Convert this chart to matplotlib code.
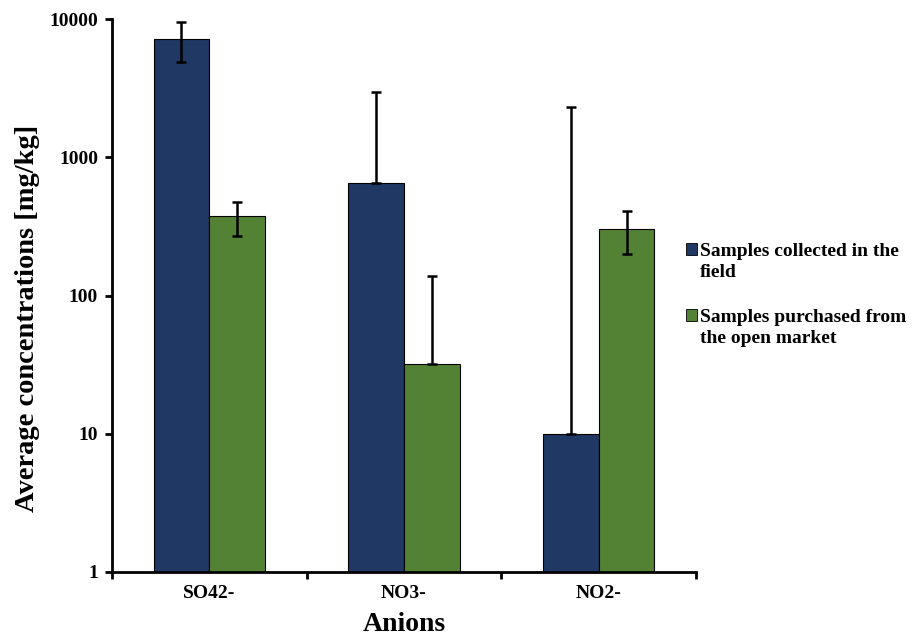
import numpy as np
import matplotlib
matplotlib.use('Agg')
import matplotlib.pyplot as plt
from matplotlib.patches import Rectangle

plt.rcParams['font.family'] = ['Liberation Serif', 'DejaVu Serif']
plt.rcParams['font.weight'] = 'bold'

anions = ['SO42-', 'NO3-', 'NO2-']
series_names = ['Samples collected in the\nfield',
                'Samples purchased from\nthe open market']
field_mean = [7200, 656, 10]
field_err = [2300, 2300, 2300]
market_mean = [373, 32, 304]
market_err = [105, 106, 104]

colors = ['#203864', '#548235']

W, H = 913, 638
fig = plt.figure(figsize=(W / 100, H / 100), dpi=100)
ax = fig.add_axes([112 / W, 1 - 572 / H, 584 / W, 553 / H])

x = np.arange(len(anions))
w = 0.286


def err_pair(mean, err):
    # lower bar is dropped where it would fall below zero on the log axis
    mean = np.asarray(mean, float)
    err = np.asarray(err, float)
    lower = np.where(err < mean, err, 0.0)
    return [lower, err]


for i, (mean, err) in enumerate([(field_mean, field_err), (market_mean, market_err)]):
    pos = x + (i - 0.5) * w
    ax.bar(pos, mean, width=w, color=colors[i], edgecolor='black', linewidth=0.8,
           zorder=2)
    ax.errorbar(pos, mean, yerr=err_pair(mean, err), fmt='none', ecolor='black',
                elinewidth=1.8, capsize=3.5, capthick=1.8, zorder=3)

ax.set_yscale('log')
ax.set_ylim(1, 10000)
ax.set_yticks([1, 10, 100, 1000, 10000])
ax.set_yticklabels(['1', '10', '100', '1000', '10000'])
ax.yaxis.set_minor_locator(matplotlib.ticker.NullLocator())

ax.set_xlim(-0.5, 2.5)
ax.set_xticks([-0.5, 0.5, 1.5, 2.5])
ax.set_xticklabels([])
ax.set_xticks(x, minor=True)
ax.set_xticklabels(anions, minor=True)
ax.tick_params(axis='x', which='minor', length=0, pad=9, labelsize=14)
ax.tick_params(axis='x', which='major', length=5, width=2, direction='out')
ax.tick_params(axis='y', length=5, width=2, labelsize=14, pad=5)

for side in ['top', 'right']:
    ax.spines[side].set_visible(False)
for side in ['left', 'bottom']:
    ax.spines[side].set_linewidth(2)

ax.set_ylabel('Average concentrations [mg/kg]', fontsize=20.5, fontweight='bold')
ax.yaxis.set_label_coords(-0.123, 0.459)
ax.set_xlabel('Anions', fontsize=20, fontweight='bold')
ax.xaxis.set_label_coords(0.5, -0.072)

# legend drawn by hand so each square sits on the first line of its label;
# text is anchored at the baseline of its last line
square_y = [249, 315]
text_base = [277, 343]
for i, name in enumerate(series_names):
    fig.patches.append(Rectangle((686 / W, 1 - (square_y[i] + 6) / H), 11 / W, 12 / H,
                                 transform=fig.transFigure, facecolor=colors[i],
                                 edgecolor='black', linewidth=0.6))
    fig.text(700 / W, 1 - text_base[i] / H, name, fontsize=14, fontweight='bold',
             va='baseline', ha='left', linespacing=1.27)

fig.savefig('out.png', dpi=100)
